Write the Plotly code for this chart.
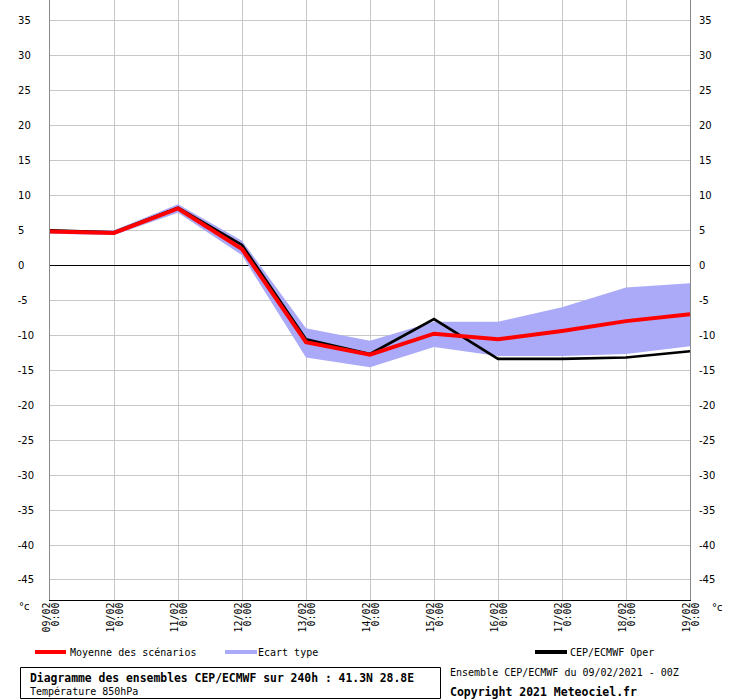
import plotly.graph_objects as go

# ---- data ----
days = ["09/02", "10/02", "11/02", "12/02", "13/02", "14/02",
        "15/02", "16/02", "17/02", "18/02", "19/02"]
hour_label = "0:00"
mean_scen = [4.8, 4.6, 8.1, 2.3, -11.0, -12.8, -9.8, -10.6, -9.4, -8.0, -7.0]
oper = [5.0, 4.7, 8.2, 2.9, -10.6, -12.7, -7.7, -13.4, -13.4, -13.2, -12.3]
spread_upper = [5.0, 5.0, 8.7, 3.5, -9.0, -10.8, -8.1, -8.1, -6.0, -3.2, -2.6]
spread_lower = [4.5, 4.3, 7.5, 1.4, -13.2, -14.6, -11.7, -13.0, -13.0, -12.7, -11.6]
y_ticks = [35, 30, 25, 20, 15, 10, 5, 0, -5, -10, -15, -20, -25, -30, -35, -40, -45]

W, H = 740, 700
ML, MR, MT, MB = 50, 50, 0, 100
PW, PH = W - ML - MR, H - MT - MB


def px(x):
    return (x - ML) / PW


def py(y):
    return (MT + PH - y) / PH


# left labels padded so they appear left-aligned
def pad_left_label(v):
    s = str(v)
    digits = sum(c.isdigit() for c in s)
    pad = ""
    if not s.startswith("-"):
        pad += "\u2008"
    if digits == 1:
        pad += "\u2007"
    return s + pad


left_text = [pad_left_label(v) for v in y_ticks]
right_text = [str(v) for v in y_ticks]

BAND = "#aaaaf8"
YR = [-47.86, 37.9]

fig = go.Figure()
fig.add_trace(go.Scatter(x=days, y=spread_lower, mode="lines", line=dict(width=0, color=BAND),
                         hoverinfo="skip", showlegend=False))
fig.add_trace(go.Scatter(x=days, y=spread_upper, mode="lines", line=dict(width=0, color=BAND),
                         fill="tonexty", fillcolor=BAND, name="Ecart type", showlegend=False))
fig.add_trace(go.Scatter(x=days, y=oper, mode="lines", line=dict(color="black", width=2.6),
                         name="CEP/ECMWF Oper", showlegend=False))
fig.add_trace(go.Scatter(x=days, y=mean_scen, mode="lines", line=dict(color="#ff0000", width=4),
                         name="Moyenne des scénarios", showlegend=False))
fig.add_trace(go.Scatter(x=days, y=mean_scen, mode="lines", line=dict(width=0), opacity=0,
                         hoverinfo="skip", showlegend=False, yaxis="y2"))

tickfont_sans = dict(family="DejaVu Sans", size=10, color="black")
mono = "DejaVu Sans Mono"

fig.update_layout(
    width=W, height=H,
    margin=dict(l=ML, r=MR, t=MT, b=MB),
    paper_bgcolor="white", plot_bgcolor="white",
    xaxis=dict(type="category", range=[0, len(days) - 1], tickmode="array",
               tickvals=days, showticklabels=False,
               showgrid=True, gridcolor="#c8c8c8", gridwidth=1,
               showline=True, linecolor="black", linewidth=1, ticks="", zeroline=False),
    yaxis=dict(range=YR, tickmode="array", tickvals=y_ticks, ticktext=left_text,
               tickfont=tickfont_sans, showgrid=True, gridcolor="#c8c8c8", gridwidth=1,
               showline=True, linecolor="#888888", linewidth=1, ticks="",
               ticklabelstandoff=13, zeroline=True, zerolinecolor="black", zerolinewidth=1),
    yaxis2=dict(range=YR, overlaying="y", side="right", tickmode="array", tickvals=y_ticks,
                ticktext=right_text, tickfont=tickfont_sans, showgrid=False,
                showline=True, linecolor="#888888", linewidth=1, ticks="",
                ticklabelstandoff=6, zeroline=False),
)

shapes = [
    dict(type="line", xref="paper", yref="paper", x0=px(35), x1=px(66), y0=py(652), y1=py(652),
         line=dict(color="#ff0000", width=4)),
    dict(type="line", xref="paper", yref="paper", x0=px(225), x1=px(257), y0=py(652), y1=py(652),
         line=dict(color=BAND, width=4)),
    dict(type="line", xref="paper", yref="paper", x0=px(535), x1=px(567), y0=py(652), y1=py(652),
         line=dict(color="black", width=4)),
    dict(type="rect", xref="paper", yref="paper", x0=px(20.5), x1=px(440.5), y0=py(667.5), y1=py(698.5),
         line=dict(color="black", width=1), fillcolor="rgba(0,0,0,0)"),
]
fig.update_layout(shapes=shapes)


def ann(text, x, y, size=10, xanchor="left"):
    return dict(text=text, xref="paper", yref="paper", x=px(x), y=py(y), xanchor=xanchor,
                yanchor="middle", showarrow=False, borderpad=0,
                font=dict(family=mono, size=size, color="black"))


annotations = [
    ann("Moyenne des scénarios", 69, 652),
    ann("Ecart type", 257, 652),
    ann("CEP/ECMWF Oper", 569, 652),
    ann("<b>Diagramme des ensembles CEP/ECMWF sur 240h : 41.3N 28.8E</b>", 28.5, 678, size=11.4),
    ann("Température 850hPa", 28.5, 691),
    ann("Ensemble CEP/ECMWF du 09/02/2021 - 00Z", 449, 672),
    ann("<b>Copyright 2021 Meteociel.fr</b>", 449, 692, size=11.5),
    dict(text="°c", xref="paper", yref="paper", x=px(18), y=py(606), xanchor="left", yanchor="middle",
         showarrow=False, borderpad=0, font=dict(family="DejaVu Sans", size=10, color="black")),
    dict(text="°c", xref="paper", yref="paper", x=px(711), y=py(607), xanchor="left", yanchor="middle",
         showarrow=False, borderpad=0, font=dict(family="DejaVu Sans", size=10, color="black")),
]
# x tick labels (date + hour, rotated), positioned on the category scale
for d in days:
    annotations.append(dict(text=d, xref="x", yref="paper", x=d, y=0, yshift=-2, xshift=-4.5,
                            xanchor="center", yanchor="top", textangle=-90, showarrow=False,
                            borderpad=0, font=dict(family=mono, size=10, color="black")))
    annotations.append(dict(text=hour_label, xref="x", yref="paper", x=d, y=0, yshift=-2, xshift=4.5,
                            xanchor="center", yanchor="top", textangle=-90, showarrow=False,
                            borderpad=0, font=dict(family=mono, size=10, color="black")))
fig.update_layout(annotations=annotations)

fig.write_html("out.html", post_script="document.body.style.margin='0px';",
               config={"displayModeBar": False})
